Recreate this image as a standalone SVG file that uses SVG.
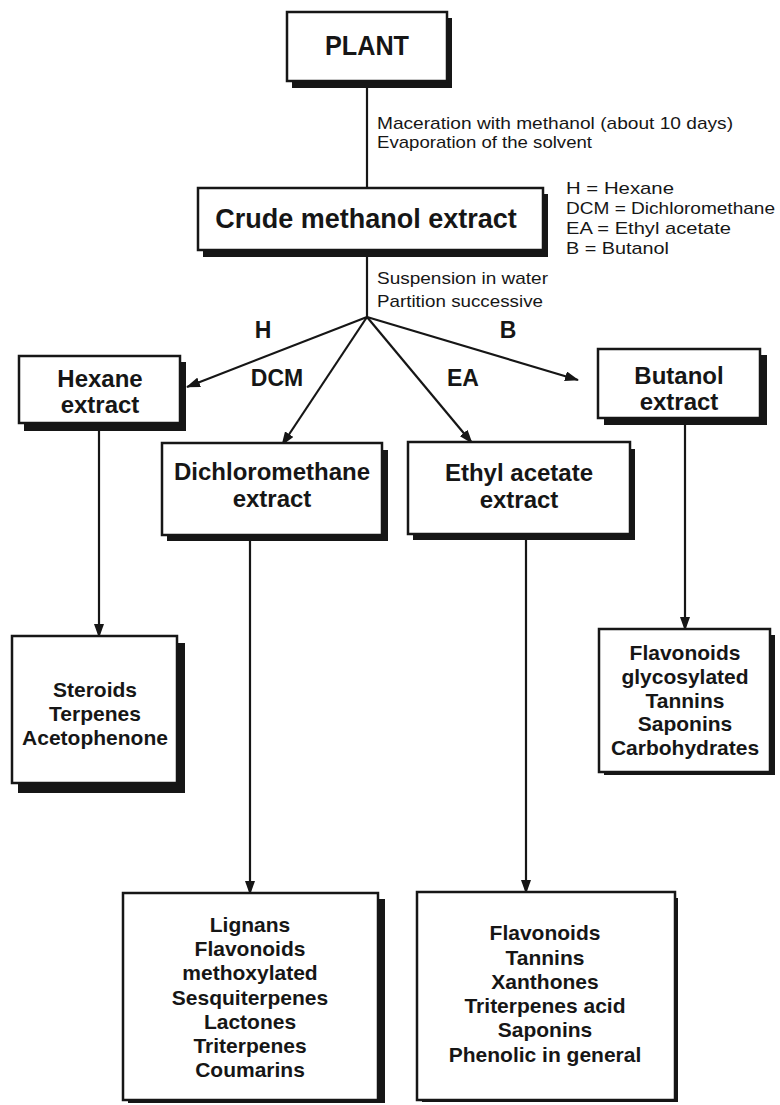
<svg xmlns="http://www.w3.org/2000/svg" width="780" height="1105" viewBox="0 0 780 1105">
  <style>
    .box { fill: #ffffff; stroke: #161616; stroke-width: 2.5; }
    .shadow { fill: #161616; }
    .title { font-family: "Liberation Sans", Arial, sans-serif; font-weight: bold; font-size: 24px; fill: #161616; text-anchor: middle; }
    .list { font-family: "Liberation Sans", Arial, sans-serif; font-weight: bold; font-size: 21px; fill: #161616; text-anchor: middle; }
    .note { font-family: "Liberation Sans", Arial, sans-serif; font-size: 17px; fill: #161616; }
    .tag { font-family: "Liberation Sans", Arial, sans-serif; font-weight: bold; font-size: 23px; fill: #161616; text-anchor: middle; }
    .wire { fill: none; stroke: #161616; stroke-width: 2.2; }
  </style>
  <defs>
    <marker id="head" viewBox="0 0 14 10" refX="13" refY="5" markerWidth="14" markerHeight="10" markerUnits="userSpaceOnUse" orient="auto">
      <path d="M0,0 L14,5 L0,10 z" fill="#161616"/>
    </marker>
  </defs>
  <rect width="780" height="1105" fill="#ffffff"/>

  <!-- connectors -->
  <g id="connectors">
    <line class="wire" x1="367" y1="82" x2="367" y2="188"/>
    <line class="wire" x1="367" y1="256" x2="367" y2="317"/>
    <line class="wire" x1="367" y1="317" x2="187" y2="387" marker-end="url(#head)"/>
    <line class="wire" x1="367" y1="317" x2="282" y2="445" marker-end="url(#head)"/>
    <line class="wire" x1="367" y1="317" x2="472" y2="443" marker-end="url(#head)"/>
    <line class="wire" x1="367" y1="317" x2="578" y2="380" marker-end="url(#head)"/>
    <line class="wire" x1="99" y1="430" x2="99" y2="637" marker-end="url(#head)"/>
    <line class="wire" x1="685" y1="424" x2="685" y2="630" marker-end="url(#head)"/>
    <line class="wire" x1="250" y1="540" x2="250" y2="894" marker-end="url(#head)"/>
    <line class="wire" x1="526" y1="540" x2="526" y2="893" marker-end="url(#head)"/>
  </g>

  <!-- process notes -->
  <g id="notes">
    <text class="note" x="377" y="129" textLength="356" lengthAdjust="spacingAndGlyphs">Maceration with methanol (about 10 days)</text>
    <text class="note" x="377" y="148" textLength="215" lengthAdjust="spacingAndGlyphs">Evaporation of the solvent</text>
    <text class="note" x="377" y="284" textLength="171" lengthAdjust="spacingAndGlyphs">Suspension in water</text>
    <text class="note" x="377" y="307" textLength="166" lengthAdjust="spacingAndGlyphs">Partition successive</text>
  </g>

  <!-- solvent legend -->
  <g id="legend">
    <text class="note" x="566" y="194" textLength="108" lengthAdjust="spacingAndGlyphs">H = Hexane</text>
    <text class="note" x="566" y="214" textLength="209" lengthAdjust="spacingAndGlyphs">DCM = Dichloromethane</text>
    <text class="note" x="566" y="234" textLength="165" lengthAdjust="spacingAndGlyphs">EA = Ethyl acetate</text>
    <text class="note" x="566" y="254" textLength="103" lengthAdjust="spacingAndGlyphs">B = Butanol</text>
  </g>

  <!-- branch labels -->
  <g id="branch-labels">
    <text class="tag" x="263" y="338">H</text>
    <text class="tag" x="508" y="338">B</text>
    <text class="tag" x="277" y="386">DCM</text>
    <text class="tag" x="463" y="386">EA</text>
  </g>

  <g id="plant">
    <rect class="shadow" x="292" y="18" width="160" height="70"/>
    <rect class="box" x="287" y="12" width="160" height="69"/>
    <text class="title" x="367" y="55" style="font-size:28px" textLength="84" lengthAdjust="spacingAndGlyphs">PLANT</text>
  </g>

  <g id="crude-extract">
    <rect class="shadow" x="203" y="194" width="345" height="63"/>
    <rect class="box" x="198" y="188" width="345" height="62"/>
    <text class="title" x="366" y="228" style="font-size:27px">Crude methanol extract</text>
  </g>

  <g id="hexane-extract">
    <rect class="shadow" x="24" y="362" width="162" height="69"/>
    <rect class="box" x="19" y="356" width="161" height="67"/>
    <text class="title" x="100" y="387">Hexane</text>
    <text class="title" x="100" y="413">extract</text>
  </g>

  <g id="dcm-extract">
    <rect class="shadow" x="167" y="450" width="221" height="91"/>
    <rect class="box" x="162" y="443" width="220" height="92"/>
    <text class="title" x="272" y="480">Dichloromethane</text>
    <text class="title" x="272" y="507">extract</text>
  </g>

  <g id="ea-extract">
    <rect class="shadow" x="413" y="449" width="222" height="91"/>
    <rect class="box" x="408" y="442" width="222" height="92"/>
    <text class="title" x="519" y="481">Ethyl acetate</text>
    <text class="title" x="519" y="508">extract</text>
  </g>

  <g id="butanol-extract">
    <rect class="shadow" x="604" y="355" width="163" height="70"/>
    <rect class="box" x="598" y="349" width="162" height="69"/>
    <text class="title" x="679" y="384">Butanol</text>
    <text class="title" x="679" y="410">extract</text>
  </g>

  <g id="hexane-compounds">
    <rect class="shadow" x="18" y="643" width="167" height="150"/>
    <rect class="box" x="12" y="636" width="165" height="147"/>
    <text class="list" x="95" y="697">Steroids</text>
    <text class="list" x="95" y="721">Terpenes</text>
    <text class="list" x="95" y="745">Acetophenone</text>
  </g>

  <g id="butanol-compounds">
    <rect class="shadow" x="604" y="635" width="171" height="140"/>
    <rect class="box" x="599" y="629" width="171" height="143"/>
    <text class="list" x="685" y="660">Flavonoids</text>
    <text class="list" x="685" y="684">glycosylated</text>
    <text class="list" x="685" y="708">Tannins</text>
    <text class="list" x="685" y="731">Saponins</text>
    <text class="list" x="685" y="755">Carbohydrates</text>
  </g>

  <g id="dcm-compounds">
    <rect class="shadow" x="128" y="899" width="257" height="204"/>
    <rect class="box" x="123" y="893" width="255" height="207"/>
    <text class="list" x="250" y="932">Lignans</text>
    <text class="list" x="250" y="956">Flavonoids</text>
    <text class="list" x="250" y="980">methoxylated</text>
    <text class="list" x="250" y="1005">Sesquiterpenes</text>
    <text class="list" x="250" y="1029">Lactones</text>
    <text class="list" x="250" y="1053">Triterpenes</text>
    <text class="list" x="250" y="1077">Coumarins</text>
  </g>

  <g id="ea-compounds">
    <rect class="shadow" x="422" y="898" width="256" height="204"/>
    <rect class="box" x="417" y="892" width="258" height="208"/>
    <text class="list" x="545" y="940">Flavonoids</text>
    <text class="list" x="545" y="965">Tannins</text>
    <text class="list" x="545" y="989">Xanthones</text>
    <text class="list" x="545" y="1013">Triterpenes acid</text>
    <text class="list" x="545" y="1037">Saponins</text>
    <text class="list" x="545" y="1062">Phenolic in general</text>
  </g>
</svg>
